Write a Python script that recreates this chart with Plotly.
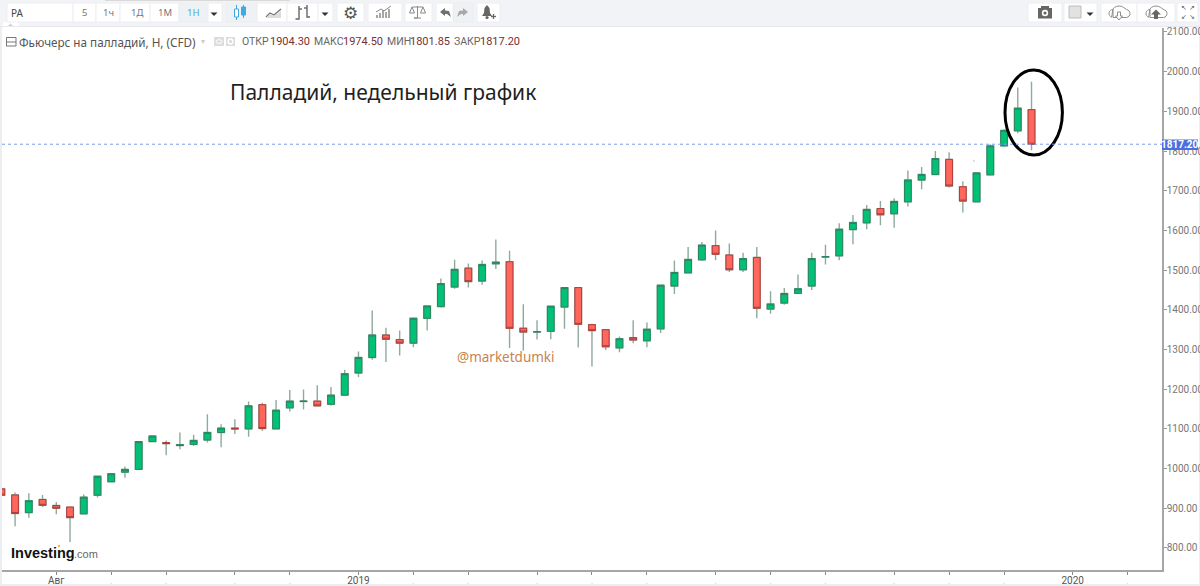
import math
import pandas as pd
import plotly.graph_objects as go

# ---------- data (weekly palladium futures) ----------
start_week = "2018-07-02"
opens = [949,933.5,889,922,907,903,886,933,967,991,998,1068,1065.5,1058,1061,1072,1091,1102,1100,1161,
         1100,1153,1169,1170,1162,1185,1241,1280,1336.5,1325,1316,1378.6,1408,1457.5,1505,1472.5,1516,1521,1353.5,1344,
         1346,1407,1456,1362.7,1350,1304,1330,1322,1352,1460,1493,1526,1561.6,1538,1501,1532,1402,1417,1441.5,1460,
         1533,1536,1602,1619,1655,1642,1672,1727,1741,1779,1710,1672,1740,1813,1851,1904.3]
highs = [949,939.5,938,933.5,916,903,935,980.6,987,1005,1068,1082,1071,1091,1085,1137,1112,1124,1169,1166,
         1173,1198,1199,1210,1205.5,1249,1295,1398,1355,1348,1378.6,1409.6,1479,1526,1517,1524,1577,1549,1414,1374,
         1409,1456,1456,1365,1350,1332.5,1374,1368,1462,1524,1558,1571,1600,1567,1544,1558,1447,1455,1489,1544,
         1564,1618,1639,1664,1674,1681,1751,1760,1800,1797,1724,1746,1817,1855,1960,1974.5]
lows = [933,855,876,903,885,815,886,927,965,977,998,1068,1033.5,1049,1057,1066,1054,1087,1080,1095,
        1100,1144,1149,1158,1159,1185,1231,1274.5,1268.5,1285,1306,1348,1406,1453,1456,1463,1503,1304,1297,1325,
        1326,1352.6,1305,1257,1299,1293,1316,1305.5,1341.6,1440,1493,1523,1525,1495,1495,1379,1390,1413,1441.5,1450,
        1514,1525,1565,1603,1613,1607,1660,1704,1741,1708,1645,1672,1740,1811,1845,1801.85]
closes = [933,887,919,907.5,900,876.5,928,980.6,987,998,1068,1082,1063,1060,1071,1091,1102,1100,1158,1101,
          1147,1170,1170,1158,1185,1239,1280,1336.5,1326,1316,1378.6,1409.6,1466,1502,1471,1514,1520,1353.5,1344,1345,
          1409,1456,1363.5,1347.6,1307,1327,1324,1351,1462,1494,1527,1563,1540,1501,1529,1404,1414.6,1441,1453,1529,
          1534,1603,1620,1653,1639.5,1673,1727,1741,1781,1712,1674,1745,1813,1852,1908,1817.2]
price_ticks = [800,900,1000,1100,1200,1300,1400,1500,1600,1700,1800,1900,2000,2100]
date_ticks = ["2018-07-30","2018-08-27","2018-09-24","2018-10-29","2018-11-26","2018-12-31",
              "2019-01-28","2019-02-25","2019-04-01","2019-04-29","2019-05-27","2019-07-01",
              "2019-07-29","2019-08-26","2019-09-30","2019-10-28","2019-11-25","2019-12-30","2020-01-27"]
date_labels = {"2018-07-30": "Авг", "2018-12-31": "2019", "2019-12-30": "2020"}
x_range = ["2018-07-02 08:00", "2020-02-13 12:00"]
y_range = [744.5, 2110]
last_close = 1817.20

weeks = pd.date_range(start_week, periods=len(opens), freq="7D")
body_top = [max(a, b) for a, b in zip(opens, closes)]
body_bot = [min(a, b) for a, b in zip(opens, closes)]

GREEN, RED = "#00c176", "#ff675c"
GREEN_EDGE, RED_EDGE = "#2c8560", "#b03c3c"
WICK = "#8faa9d"
FONT = "Noto Sans"

# ---------- pixel helpers for the page furniture (paper = whole page) ----------
W, H = 1200, 586
L, R, T_, B = 2, 1162, 28, 570
px = lambda x: x / W
py = lambda y: (H - y) / H
shapes, notes = [], []


def rect(x0, y0, x1, y1, fill="#ffffff", line=None, lw=1, layer="above"):
    shapes.append(dict(type="rect", xref="paper", yref="paper", x0=px(x0), x1=px(x1), y0=py(y1), y1=py(y0),
                       fillcolor=fill, line=dict(color=line or "rgba(0,0,0,0)", width=lw if line else 0), layer=layer))


def poly(points, fill=None, line=None, lw=1, close=False):
    d = "M" + " L".join(f"{px(a):.5f} {py(b):.5f}" for a, b in points) + (" Z" if close else "")
    shapes.append(dict(type="path", xref="paper", yref="paper", path=d, fillcolor=fill or "rgba(0,0,0,0)",
                       line=dict(color=line or "rgba(0,0,0,0)", width=lw if line else 0), layer="above"))


def circle(cx, cy, rx, ry, fill=None, line=None, lw=1):
    shapes.append(dict(type="circle", xref="paper", yref="paper", x0=px(cx - rx), x1=px(cx + rx), y0=py(cy + ry),
                       y1=py(cy - ry), fillcolor=fill or "rgba(0,0,0,0)",
                       line=dict(color=line or "rgba(0,0,0,0)", width=lw if line else 0), layer="above"))


def text(s, x, y, size=11, color="#666666", family=FONT, anchor="left"):
    notes.append(dict(text=s, x=px(x), y=py(y), xref="paper", yref="paper", xanchor=anchor, yanchor="middle",
                      showarrow=False, align="left", font=dict(size=size, color=color, family=family),
                      borderpad=0, borderwidth=0))


def caret(cx, cy=14, color="#333333"):
    poly([(cx - 3.5, cy - 1.5), (cx + 3.5, cy - 1.5), (cx, cy + 2)], fill=color, close=True)


# page bands
rect(0, 0, 1200, 27, "#f1f3f6", layer="below")
poly([(0, 26.5), (1200, 26.5)], line="#e6e8eb", lw=1)
rect(0, 27, 2, 586, "#eceef1", layer="below")
rect(1199, 27, 1200, 586, "#eceef1", layer="below")
rect(0, 584, 1200, 586, "#eceef1", layer="below")
poly([(105, 0.5), (290, 0.5)], line="#d9d9d9", lw=1)
rect(3, 22, 19, 27, "#ffffff", layer="below")
poly([(8, 26), (10.5, 23.5), (13, 26)], fill="#d0d0d0", close=True)

# toolbar buttons
for a, b, col in [(7, 73, "#fff"), (73, 96, "#fff"), (96, 120, "#fff"), (120, 150, "#fff"), (150, 179, "#fff"),
                  (179, 208, "#eef2f5"), (208, 222, "#fff"), (226, 257, "#eef2f5"), (257, 287, "#fff"),
                  (287, 318, "#fff"), (318, 333, "#fff"), (337, 364, "#fff"), (368, 402, "#fff"),
                  (405, 432, "#fff"), (436, 453, "#fff"), (454, 473, "#eef2f5"), (477, 500, "#fff"),
                  (1028, 1062, "#fff"), (1064, 1097, "#fff"), (1101, 1137, "#fff"), (1137, 1175, "#fff"),
                  (1177, 1198, "#fff")]:
    rect(a, 3, b, 22, col, line="#eceef1")

text("PA", 11, 13, 10, "#444444", anchor="left")
for s, x, c in [("5", 84, "#777777"), ("1ч", 108, "#777777"), ("1Д", 137, "#777777"), ("1М", 165, "#777777"),
                ("1Н", 193, "#4aa8d8")]:
    text(s, x, 12.5, 9.5, c, anchor="center")
caret(214)
caret(325)

# candle icon
BLUE = "#3fa9e0"
poly([(236.5, 5), (236.5, 20)], line=BLUE, lw=1)
rect(234.5, 9, 238.5, 17, "#ffffff", line=BLUE)
poly([(243.5, 5), (243.5, 18)], line=BLUE, lw=1)
rect(241.5, 7, 245.5, 15, BLUE, line=BLUE)
# line icon
poly([(266, 17), (270, 13), (274, 15), (281, 9)], line="#777777", lw=1.4)
poly([(266, 18), (281, 18), (281, 11), (274, 16), (270, 14)], fill="#dddddd", close=True)
# bars icon
poly([(299, 6), (299, 19), (295.5, 19)], line="#666666", lw=1.4)
poly([(299, 9), (302, 9)], line="#666666", lw=1.4)
poly([(307, 5), (307, 17), (310, 17)], line="#666666", lw=1.4)
poly([(304, 8), (307, 8)], line="#666666", lw=1.4)
# gear
text("⚙", 350.5, 12.5, 17, "#555555", "DejaVu Sans", "center")
# indicators icon
for x0, h in [(377, 3), (380, 5), (383, 8), (386, 6), (389, 9)]:
    poly([(x0, 18), (x0, 18 - h)], line="#8a8a8a", lw=1.5)
poly([(376, 12), (381, 9), (384, 11), (391, 6)], line="#8a8a8a", lw=1)
# scales
poly([(412, 7), (423, 7)], line="#8a8a8a", lw=1)
poly([(417.5, 6), (417.5, 18), (414, 18), (421, 18)], line="#8a8a8a", lw=1)
poly([(412, 7), (409.5, 13), (414.5, 13)], line="#8a8a8a", lw=1, close=True)
poly([(423, 7), (420.5, 13), (425.5, 13)], line="#8a8a8a", lw=1, close=True)
# undo / redo
poly([(440, 12), (445, 8), (445, 10.5), (449, 11), (451, 17), (447, 14), (445, 14), (445, 16)], fill="#6f6f6f", close=True)
poly([(468, 12), (463, 8), (463, 10.5), (459, 11), (457, 17), (461, 14), (463, 14), (463, 16)], fill="#a8a8a8", close=True)
# bell
poly([(487, 5), (484.5, 8), (484, 13), (482, 16), (492, 16), (490, 13), (489.5, 8)], fill="#666666", close=True)
circle(487, 17.5, 1.6, 1.6, fill="#666666")
poly([(493.5, 14), (493.5, 19)], line="#666666", lw=1.3)
poly([(491, 16.5), (496, 16.5)], line="#666666", lw=1.3)
# camera
rect(1038, 8, 1052, 18.5, "#666666")
rect(1041, 6, 1049, 9, "#666666")
circle(1045, 13, 3.2, 3.2, fill="#ffffff")
circle(1045, 13, 1.6, 1.6, fill="#666666")
# colour box
rect(1069, 6, 1081, 18, "#e2e2e2", line="#bbbbbb")
caret(1090)


def cloud(cx, color="#8e8e8e", lw=1):
    pts = []
    for ang in range(90, 270, 20):
        pts.append((cx - 6 + 4 * math.cos(math.radians(ang)), 13.5 - 4 * math.sin(math.radians(ang))))
    for ang in range(150, 30, -20):
        pts.append((cx + 7 * math.cos(math.radians(ang)), 12 - 6 * math.sin(math.radians(ang))))
    for ang in range(80, -100, -20):
        pts.append((cx + 7 + 4 * math.cos(math.radians(ang)), 13.5 - 4 * math.sin(math.radians(ang))))
    poly(pts + [(cx + 7, 17.5), (cx - 6, 17.5)], line=color, lw=lw, close=True)


cloud(1119)
poly([(1117.5, 12), (1120.5, 12), (1120.5, 16), (1122.5, 16), (1119, 20), (1115.5, 16), (1117.5, 16)],
     fill="#ffffff", line="#8e8e8e", close=True)
cloud(1156)
poly([(1156, 9.5), (1161, 14.5), (1158, 14.5), (1158, 19), (1154, 19), (1154, 14.5), (1151, 14.5)],
     fill="#666666", close=True)
text("↖ ↗", 1187.5, 7.5, 7, "#555555", "DejaVu Sans", "center")
text("↙ ↘", 1187.5, 16.5, 7, "#555555", "DejaVu Sans", "center")

# legend row
rect(6.5, 37.5, 16, 46, "#ffffff", line="#777777")
poly([(6.5, 42), (16, 42)], line="#777777")
text("Фьючерс на палладий, Н, (CFD)", 19, 41.5, 11.7, "#555555")
text("▾", 203, 41, 8, "#cccccc", "DejaVu Sans", "center")
rect(214, 37, 224, 46, "#dddddd")
rect(226, 37, 235, 46, "#dddddd")
circle(219, 41.5, 3, 1.8, line="#ffffff")
circle(230.5, 41.5, 2.4, 2.4, line="#ffffff", lw=1.5)
OHLC = "#7b2f2f"
for label, lx, value, vx in [("ОТКР", 242, "1904.30", 270), ("МАКС", 314, "1974.50", 343),
                             ("МИН", 387, "1801.85", 410), ("ЗАКР", 454, "1817.20", 480)]:
    text(label, lx, 42, 10.5, "#666666", "Roboto")
    text(value, vx, 42, 11, OHLC, "Roboto")

# overlay text
text("Палладий, недельный график", 230, 92, 21, "#1f1f1f")
text("@marketdumki", 457, 357, 13.5, "#c8834f")
text("<b>Investing</b>", 11, 553, 14.5, "#111111", "Liberation Sans")
text(".com", 74, 554, 11, "#666666", "Liberation Sans")
poly([(58, 546.5), (60, 545.5)], line="#f5a623", lw=1.5)

# circled last candles, stray dot
circle(1033.7, 112.5, 28.7, 42.5, line="#000000", lw=3)
poly([(973, 160.5), (975, 161.5)], line="#9cc4ee", lw=1)

# last price label
rect(1162, 139.5, 1198, 150, "#4a6fe0")
text("<b>1817.20</b>", 1180, 144.8, 10, "#ffffff", "Roboto", "center")

# ---------- figure ----------
fig = go.Figure()
fig.add_trace(go.Candlestick(
    x=weeks, open=opens, high=highs, low=lows, close=closes, hoverinfo="skip",
    increasing=dict(line=dict(color=WICK, width=1.4), fillcolor="rgba(0,0,0,0)"),
    decreasing=dict(line=dict(color=WICK, width=1.4), fillcolor="rgba(0,0,0,0)"),
))
fig.add_trace(go.Candlestick(
    x=weeks, open=opens, high=body_top, low=body_bot, close=closes,
    increasing=dict(line=dict(color=GREEN_EDGE, width=1), fillcolor=GREEN),
    decreasing=dict(line=dict(color=RED_EDGE, width=1), fillcolor=RED),
))
shapes.append(dict(type="line", xref="paper", yref="y", x0=px(L), x1=px(R), y0=last_close, y1=last_close,
                   line=dict(color="#7d9bef", width=1, dash="dot"), layer="above"))

tick_text = [date_labels.get(d, '<span style="color:#d5d5d5">.</span>') for d in date_ticks]

fig.update_layout(
    width=W, height=H, autosize=False, showlegend=False,
    margin=dict(l=0, r=0, t=0, b=0, pad=0, autoexpand=False),
    paper_bgcolor="#ffffff", plot_bgcolor="rgba(0,0,0,0)", boxgap=0.3,
    shapes=shapes, annotations=notes,
    xaxis=dict(type="date", domain=[px(L), px(R)], range=x_range, rangeslider=dict(visible=False), showgrid=False,
               automargin=False, zeroline=False, showline=True, linecolor="#a6a6a6", linewidth=1.5, ticks="outside",
               ticklen=3, tickwidth=1, tickcolor="#888888", tickmode="array", tickvals=date_ticks,
               ticktext=tick_text, tickangle=0, ticklabelstandoff=-3,
               tickfont=dict(family="Roboto", size=10, color="#555555")),
    yaxis=dict(side="right", domain=[py(B), py(T_)], range=y_range, showgrid=False, automargin=False, zeroline=False,
               showline=True, linecolor="#a6a6a6", linewidth=1.5, ticks="outside", ticklen=3, tickwidth=1,
               tickcolor="#999999", tickmode="array", tickvals=price_ticks, tickformat=".2f", ticklabelstandoff=-2,
               tickfont=dict(family="Roboto", size=10, color="#777777")),
)
fig.write_html("out.html", config=dict(displayModeBar=False, responsive=False),
               post_script="document.body.style.margin='0';document.documentElement.style.overflow='hidden';")
